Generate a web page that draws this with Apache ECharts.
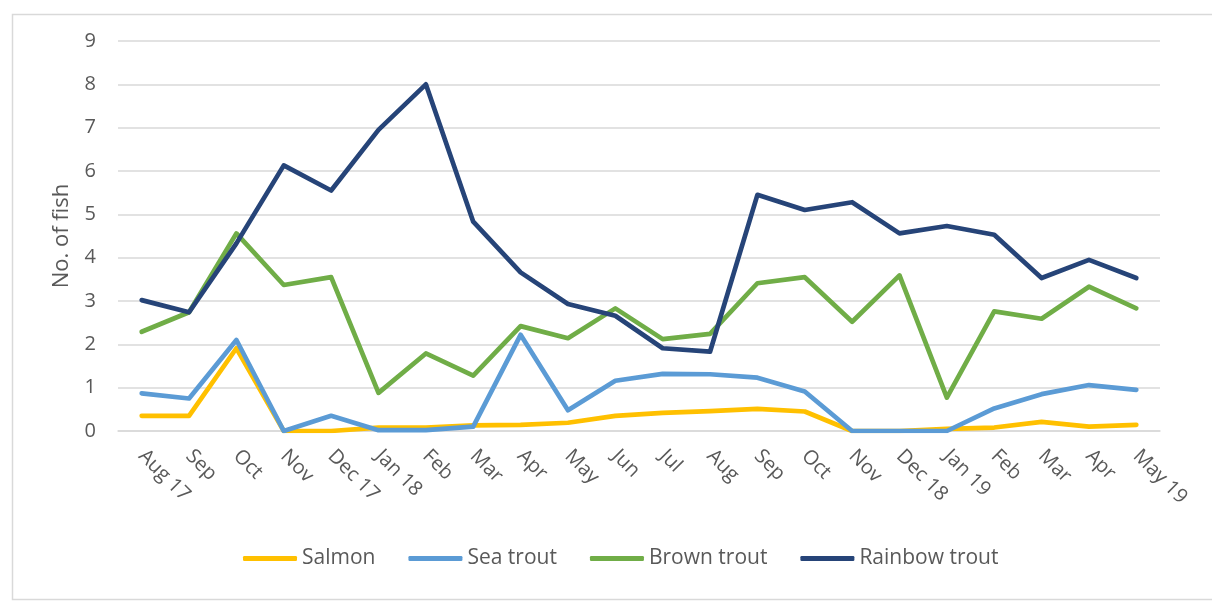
<!DOCTYPE html>
<html>
<head>
<meta charset="utf-8">
<script src="https://cdn.jsdelivr.net/npm/echarts@6/dist/echarts.min.js"></script>
<style>
  html, body { margin: 0; padding: 0; background: #fff; }
  #chart { width: 1212px; height: 606px; }
</style>
</head>
<body>
<div id="chart"></div>
<script>
var months = ['Aug 17', 'Sep', 'Oct', 'Nov', 'Dec 17', 'Jan 18', 'Feb', 'Mar', 'Apr', 'May', 'Jun',
  'Jul', 'Aug', 'Sep', 'Oct', 'Nov', 'Dec 18', 'Jan 19', 'Feb', 'Mar', 'Apr', 'May 19'];

var salmon = [0.35, 0.35, 1.91, 0, 0, 0.08, 0.08, 0.13, 0.14, 0.19, 0.35,
  0.42, 0.46, 0.51, 0.45, 0, 0, 0.05, 0.08, 0.21, 0.1, 0.14];
var seaTrout = [0.87, 0.75, 2.1, 0, 0.35, 0.02, 0.02, 0.1, 2.22, 0.48, 1.16,
  1.32, 1.31, 1.23, 0.91, 0, 0, 0, 0.52, 0.85, 1.06, 0.95];
var brownTrout = [2.29, 2.74, 4.56, 3.37, 3.55, 0.88, 1.79, 1.28, 2.42, 2.14, 2.83,
  2.12, 2.24, 3.41, 3.55, 2.52, 3.59, 0.77, 2.76, 2.59, 3.33, 2.83];
var rainbowTrout = [3.02, 2.74, 4.33, 6.13, 5.55, 6.95, 8.0, 4.83, 3.66, 2.93, 2.66,
  1.91, 1.83, 5.45, 5.1, 5.28, 4.56, 4.73, 4.53, 3.53, 3.95, 3.53];

var seriesNames = ['Salmon', 'Sea trout', 'Brown trout', 'Rainbow trout'];
var seriesData = [salmon, seaTrout, brownTrout, rainbowTrout];
var colors = ['#FFC000', '#5B9BD5', '#70AD47', '#264478'];

var chart = echarts.init(document.getElementById('chart'));
var font = '"Open Sans", sans-serif';

var series = seriesNames.map(function(name, i) {
  return {
    name: name,
    type: 'line',
    data: seriesData[i],
    symbol: 'none',
    lineStyle: { width: 4.7, color: colors[i], join: 'round', cap: 'round' },
    itemStyle: { color: colors[i] },
    z: 2 + i
  };
});

chart.setOption({
  animation: false,
  color: colors,
  graphic: [{
    type: 'rect',
    left: 10, top: 12,
    shape: { width: 1210, height: 585 },
    style: { fill: 'none', stroke: '#d9d9d9', lineWidth: 1.5 },
    silent: true
  }],
  grid: { left: 118, right: 52, top: 41, bottom: 175 },
  legend: {
    top: 543,
    left: 238,
    itemWidth: 54,
    itemHeight: 5,
    itemGap: 33,
    icon: 'roundRect',
    textStyle: { fontFamily: font, fontSize: 21, color: '#595959' },
    data: seriesNames
  },
  xAxis: {
    type: 'category',
    data: months,
    boundaryGap: true,
    axisLine: { lineStyle: { color: '#d9d9d9', width: 1.5 } },
    axisTick: { show: false },
    axisLabel: {
      rotate: -45,
      interval: 0,
      margin: 22,
      fontFamily: font,
      fontSize: 20,
      color: '#595959'
    }
  },
  yAxis: {
    type: 'value',
    min: 0,
    max: 9,
    interval: 1,
    name: 'No. of fish',
    nameLocation: 'middle',
    nameGap: 45,
    nameTextStyle: { fontFamily: font, fontSize: 22, color: '#595959' },
    axisLine: { show: false },
    axisTick: { show: false },
    axisLabel: { margin: 22, fontFamily: font, fontSize: 20, color: '#595959' },
    splitLine: { lineStyle: { color: '#d9d9d9', width: 1.5 } }
  },
  series: series
});
</script>
</body>
</html>
